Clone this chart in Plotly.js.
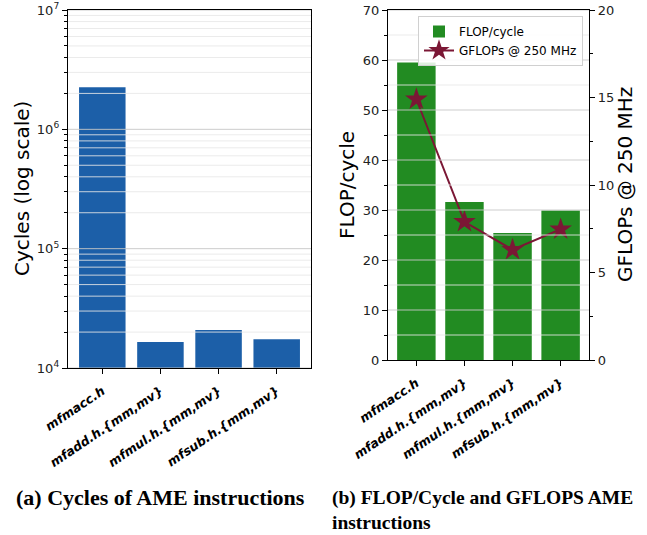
<!DOCTYPE html>
<html>
<head>
<meta charset="utf-8">
<script src="https://cdn.plot.ly/plotly-3.0.1.min.js"></script>
<style>html,body{margin:0;padding:0;background:#fff;}#chart{width:647px;height:535px;}</style>
</head>
<body>
<div id="chart"></div>
<script>
// ---- data ----
const instructions = ["mfmacc.h", "mfadd.h.{mm,mv}", "mfmul.h.{mm,mv}", "mfsub.h.{mm,mv}"];
const cycles = [2250000, 16500, 20800, 17450];
const flopPerCycle = [59.5, 31.6, 25.4, 29.9];
const gflops = [14.9, 7.9, 6.3, 7.47];
const cyclesTickVals = [1e4, 1e5, 1e6, 1e7];
const cyclesTickText = ["10<sup>4</sup>", "10<sup>5</sup>", "10<sup>6</sup>", "10<sup>7</sup>"];
const flopTicks = [0, 10, 20, 30, 40, 50, 60, 70];
const gflopsTicks = [0, 5, 10, 15, 20];

// ---- style ----
const FONT = "DejaVu Sans";
const W = 647, H = 535;
const dom = v => v / W;
const domY = v => 1 - v / H;

// minor tick values for log axis (2..9 per decade)
const logMinor = [];
for (let k = 4; k < 7; k++) for (let m = 2; m <= 9; m++) logMinor.push(m * Math.pow(10, k));
const flopMinor = [];
for (let v = 5; v < 70; v += 10) flopMinor.push(v);
const gflopsMinor = [];
for (let v = 2.5; v < 20; v += 5) gflopsMinor.push(v);

const shapes = [];
function hgrid(yref, xref, val, major) {
  shapes.push({type: "line", layer: "above", xref: xref + " domain", yref: yref,
    x0: 0, x1: 1, y0: val, y1: val,
    line: {color: major ? "rgba(200,200,200,0.9)" : "rgba(232,232,232,0.85)", width: 1}});
}
cyclesTickVals.forEach(v => hgrid("y", "x", v, true));
logMinor.forEach(v => hgrid("y", "x", v, false));
flopTicks.forEach(v => { if (v > 0) hgrid("y2", "x2", v, true); });
flopMinor.forEach(v => hgrid("y2", "x2", v, false));

const axisCommon = {
  showline: true, linecolor: "#000", linewidth: 1.2, ticks: "outside", ticklen: 5,
  tickcolor: "#000", tickwidth: 1, showgrid: false, zeroline: false,
  tickfont: {family: FONT, size: 13, color: "#222"}
};
const xCommon = Object.assign({}, axisCommon, {
  type: "category", range: [-0.59, 3.59], tickangle: -34, mirror: true, ticklabelstandoff: 5,
  tickfont: {family: FONT, size: 12.5, color: "#000", weight: "bold", style: "italic"}
});

const traces = [
  {type: "bar", x: instructions, y: cycles, xaxis: "x", yaxis: "y",
   marker: {color: "#1c5fa8"}, width: 0.8, showlegend: false, hoverinfo: "skip"},
  {type: "bar", x: instructions, y: flopPerCycle, xaxis: "x2", yaxis: "y2",
   marker: {color: "#228b22"}, width: 0.8, name: "FLOP/cycle"},
  {type: "scatter", mode: "lines+markers", x: instructions, y: gflops, xaxis: "x2", yaxis: "y3",
   line: {color: "#7b1735", width: 2}, marker: {symbol: "star", size: 17, color: "#7b1735"},
   name: "GFLOPs @ 250 MHz"}
];

const layout = {
  width: W, height: H, margin: {l: 0, r: 0, t: 0, b: 0},
  paper_bgcolor: "#fff", plot_bgcolor: "#fff",
  font: {family: FONT, color: "#000"},
  xaxis: Object.assign({}, xCommon, {domain: [dom(68), dom(311)], anchor: "y"}),
  yaxis: Object.assign({}, axisCommon, {
    type: "log", domain: [domY(368), domY(10)], anchor: "x", mirror: true,
    range: [4, 7], tickmode: "array", tickvals: cyclesTickVals, ticktext: cyclesTickText,
    minor: {tickmode: "array", tickvals: logMinor, ticks: "outside", ticklen: 3, tickcolor: "#000", showgrid: false}
  }),
  xaxis2: Object.assign({}, xCommon, {domain: [dom(388), dom(589)], anchor: "y2"}),
  yaxis2: Object.assign({}, axisCommon, {
    domain: [domY(360), domY(10)], anchor: "x2", range: [0, 70], mirror: true,
    tickmode: "array", tickvals: flopTicks,
    minor: {tickmode: "array", tickvals: flopMinor, ticks: "outside", ticklen: 3, tickcolor: "#000", showgrid: false}
  }),
  yaxis3: Object.assign({}, axisCommon, {
    overlaying: "y2", anchor: "x2", side: "right", range: [0, 20],
    tickmode: "array", tickvals: gflopsTicks,
    minor: {tickmode: "array", tickvals: gflopsMinor, ticks: "outside", ticklen: 3, tickcolor: "#000", showgrid: false}
  }),
  shapes: shapes,
  legend: {x: dom(418), y: domY(16), xanchor: "left", yanchor: "top",
    bgcolor: "rgba(255,255,255,0.85)", bordercolor: "#d0d0d0", borderwidth: 1,
    font: {family: FONT, size: 12, color: "#000"}, tracegroupgap: 0},
  bargap: 0.2,
  annotations: [
    {text: "Cycles (log scale)", xref: "paper", yref: "paper", x: dom(22), y: domY(189),
     xanchor: "center", yanchor: "middle",
     textangle: -90, showarrow: false, font: {family: FONT, size: 20, color: "#000"}},
    {text: "FLOP/cycle", xref: "paper", yref: "paper", x: dom(347), y: domY(185),
     xanchor: "center", yanchor: "middle",
     textangle: -90, showarrow: false, font: {family: FONT, size: 20, color: "#000"}},
    {text: "GFLOPs @ 250 MHz", xref: "paper", yref: "paper", x: dom(625), y: domY(185),
     xanchor: "center", yanchor: "middle",
     textangle: -90, showarrow: false, font: {family: FONT, size: 20, color: "#000"}},
    {text: "<b>(a) Cycles of AME instructions</b>", xref: "paper", yref: "paper",
     x: dom(160), y: domY(497), xanchor: "center", yanchor: "middle", showarrow: false,
     font: {family: "Liberation Serif", size: 22, color: "#000"}},
    {text: "<b>(b) FLOP/Cycle and GFLOPS AME<br>instructions</b>", xref: "paper", yref: "paper",
     x: dom(330), y: domY(485), xanchor: "left", yanchor: "top", align: "left", showarrow: false,
     font: {family: "Liberation Serif", size: 19.5, color: "#000"}}
  ]
};

Plotly.newPlot("chart", traces, layout, {displayModeBar: false, staticPlot: true});
</script>
</body>
</html>
